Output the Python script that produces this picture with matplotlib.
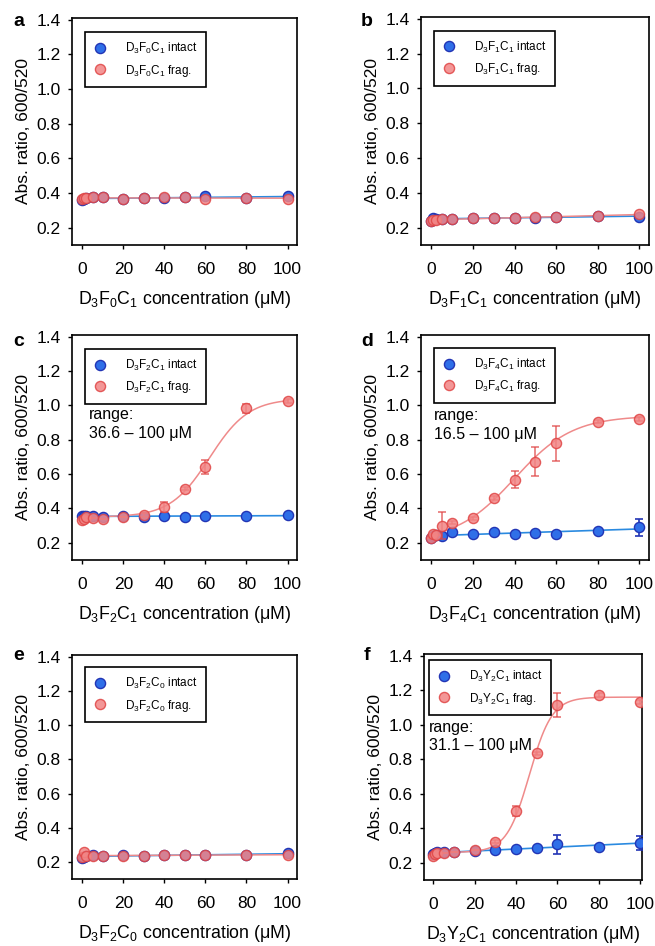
import numpy as np
import matplotlib
matplotlib.use('Agg')
import matplotlib.pyplot as plt

plt.rcParams['font.family'] = ['Liberation Sans', 'DejaVu Sans']
plt.rcParams['mathtext.fontset'] = 'custom'
plt.rcParams['mathtext.rm'] = 'Liberation Sans'
plt.rcParams['mathtext.it'] = 'Liberation Sans:italic'
plt.rcParams['mathtext.bf'] = 'Liberation Sans:bold'

# concentrations (uM)
conc = [0, 1, 2, 5, 10, 20, 30, 40, 50, 60, 80, 100]

# a: D3F0C1
a_intact = [0.36, 0.365, 0.37, 0.375, 0.375, 0.365, 0.37, 0.37, 0.378, 0.38, 0.372, 0.38]
a_frag = [0.365, 0.37, 0.372, 0.378, 0.378, 0.363, 0.372, 0.376, 0.378, 0.368, 0.37, 0.368]
# b: D3F1C1
b_intact = [0.24, 0.258, 0.25, 0.25, 0.25, 0.255, 0.255, 0.258, 0.258, 0.26, 0.265, 0.263]
b_frag = [0.24, 0.242, 0.245, 0.248, 0.252, 0.255, 0.255, 0.258, 0.26, 0.26, 0.265, 0.278]
# c: D3F2C1
c_intact = [0.355, 0.355, 0.358, 0.355, 0.352, 0.355, 0.352, 0.355, 0.352, 0.355, 0.355, 0.364]
c_frag = [0.335, 0.34, 0.35, 0.347, 0.337, 0.35, 0.362, 0.41, 0.515, 0.64, 0.983, 1.025]
c_frag_err = [0, 0, 0, 0, 0, 0, 0.01, 0.03, 0.01, 0.04, 0.025, 0.01]
# d: D3F4C1
d_intact = [0.23, 0.24, 0.245, 0.238, 0.263, 0.254, 0.261, 0.252, 0.257, 0.252, 0.27, 0.29]
d_intact_err = [0, 0, 0, 0, 0, 0, 0, 0, 0, 0, 0, 0.05]
d_frag = [0.229, 0.25, 0.245, 0.30, 0.318, 0.343, 0.462, 0.567, 0.672, 0.779, 0.905, 0.92]
d_frag_err = [0, 0, 0, 0.08, 0.01, 0.01, 0.01, 0.05, 0.085, 0.1, 0.01, 0.01]
# e: D3F2C0
e_intact = [0.225, 0.23, 0.235, 0.238, 0.233, 0.24, 0.235, 0.238, 0.24, 0.242, 0.238, 0.252]
e_frag = [0.227, 0.256, 0.233, 0.233, 0.233, 0.237, 0.237, 0.239, 0.239, 0.243, 0.243, 0.239]
# f: D3Y2C1
f_intact = [0.25, 0.255, 0.265, 0.26, 0.262, 0.27, 0.273, 0.277, 0.283, 0.306, 0.292, 0.315]
f_intact_err = [0, 0, 0.015, 0, 0, 0, 0, 0, 0, 0.055, 0, 0.04]
f_frag = [0.242, 0.248, 0.254, 0.258, 0.261, 0.273, 0.323, 0.50, 0.834, 1.112, 1.173, 1.131]
f_frag_err = [0, 0, 0, 0, 0, 0, 0.01, 0.03, 0.01, 0.07, 0.01, 0.01]

# sigmoid fit parameters (bottom, top, x0, k)
c_fit = (0.35, 1.04, 62.0, 9.5)
d_fit = (0.21, 0.94, 40.0, 14.0)
f_fit = (0.26, 1.16, 46.5, 5.5)

names = ['D$_3$F$_0$C$_1$', 'D$_3$F$_1$C$_1$', 'D$_3$F$_2$C$_1$',
         'D$_3$F$_4$C$_1$', 'D$_3$F$_2$C$_0$', 'D$_3$Y$_2$C$_1$']
letters = ['a', 'b', 'c', 'd', 'e', 'f']
ranges = [None, None, '36.6 – 100 μM', '16.5 – 100 μM', None, '31.1 – 100 μM']

panels = [
    (a_intact, None, a_frag, None, None),
    (b_intact, None, b_frag, None, None),
    (c_intact, None, c_frag, c_frag_err, c_fit),
    (d_intact, d_intact_err, d_frag, d_frag_err, d_fit),
    (e_intact, None, e_frag, None, None),
    (f_intact, f_intact_err, f_frag, f_frag_err, f_fit),
]

W, H = 655, 946
# axes boxes in pixels: left, top, right, bottom
boxes = [(72, 18, 297, 245), (421, 17, 649, 245),
         (72, 335, 297, 560), (421, 335, 649, 560),
         (72, 655, 297, 879), (424, 654, 642, 880)]
xlims = [(-5, 104.6)] * 5 + [(-4.5, 101)]
legend_anchor = [(0.058, 0.938), (0.057, 0.94), (0.058, 0.938),
                 (0.057, 0.942), (0.058, 0.946), (0.023, 0.973)]
range_pos = [None, None, (0.075, 0.605), (0.057, 0.60), None, (0.023, 0.635)]
label_pos = [(19, 22), (367, 22), (19, 342), (367, 342), (19, 655), (367, 655)]

blue_face = '#2f6fe8'
blue_edge = '#2235b5'
red_face = '#f28585'
red_edge = '#e04545'
blue_line = '#2a8ae0'
red_line = '#ef8a8a'

fig = plt.figure(figsize=(W / 100, H / 100), dpi=100)
x = np.array(conc, dtype=float)
xs = np.linspace(0, 100, 300)

for i, (intact, ierr, frag, ferr, fit) in enumerate(panels):
    l, t, r, b = boxes[i]
    ax = fig.add_axes([l / W, 1 - b / H, (r - l) / W, (b - t) / H])

    # linear fit of intact
    p = np.polyfit(x, intact, 1)
    ax.plot(xs, np.polyval(p, xs), color=blue_line, lw=1.2, zorder=2)
    # fit of frag
    if fit is None:
        pf = np.polyfit(x, frag, 1)
        ax.plot(xs, np.polyval(pf, xs), color=red_line, lw=1.1, zorder=2)
    else:
        bot, top, x0, k = fit
        ax.plot(xs, bot + (top - bot) / (1 + np.exp(-(xs - x0) / k)),
                color=red_line, lw=1.1, zorder=2)

    if ierr is not None:
        ax.errorbar(x, intact, yerr=ierr, fmt='none', ecolor=blue_edge,
                    elinewidth=1.2, capsize=3, capthick=1.2, zorder=3)
    ax.plot(x, intact, 'o', ms=7.3, mfc=blue_face, mec=blue_edge, mew=1.0,
            zorder=4, label=names[i] + ' intact')
    if ferr is not None:
        ax.errorbar(x, frag, yerr=ferr, fmt='none', ecolor=red_edge,
                    elinewidth=1.1, capsize=3, capthick=1.1, alpha=0.8, zorder=5)
    ax.plot(x, frag, 'o', ms=7.3, mfc=red_face, mec=red_edge, mew=1.0,
            alpha=0.85, zorder=6, label=names[i] + ' frag.')

    ax.set_xlim(*xlims[i])
    ax.set_ylim(0.1, 1.41)
    ax.set_xticks([0, 20, 40, 60, 80, 100])
    ax.set_yticks([0.2, 0.4, 0.6, 0.8, 1.0, 1.2, 1.4])
    ax.set_yticklabels(['0.2', '0.4', '0.6', '0.8', '1.0', '1.2', '1.4'])
    ax.tick_params(direction='out', length=3, width=1, labelsize=12.5)
    ax.tick_params(axis='x', pad=9)
    ax.tick_params(axis='y', pad=5)
    for s in ax.spines.values():
        s.set_linewidth(1.2)

    ax.set_ylabel('Abs. ratio, 600/520', fontsize=12.5, labelpad=4)
    ax.set_xlabel(names[i] + ' concentration (μM)', fontsize=12.8, labelpad=9)

    leg = ax.legend(loc='upper left', bbox_to_anchor=legend_anchor[i],
                    borderaxespad=0, fontsize=8.5, frameon=True, fancybox=False,
                    edgecolor='black', framealpha=1, handlelength=1.0,
                    handletextpad=1.6, borderpad=0.75, labelspacing=0.55,
                    markerscale=1.0)
    leg.get_frame().set_linewidth(1.2)

    if ranges[i] is not None:
        ax.text(range_pos[i][0], range_pos[i][1], 'range:\n' + ranges[i],
                transform=ax.transAxes, fontsize=11.5, ha='left', va='center',
                linespacing=1.3)

    fig.text(label_pos[i][0] / W, 1 - label_pos[i][1] / H, letters[i],
             fontsize=14, fontweight='bold', ha='center', va='center')

plt.savefig('out.png', dpi=100)
